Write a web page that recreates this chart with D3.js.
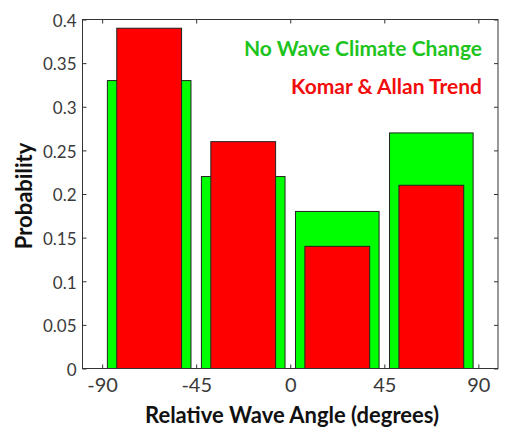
<!DOCTYPE html>
<html>
<head>
<meta charset="utf-8">
<script src="https://cdn.jsdelivr.net/npm/d3@7"></script>
<style>
  body { margin: 0; background: #fff; }
  svg { display: block; }
</style>
</head>
<body>
<script>
'use strict'

var w = 514;
var h = 437;

// bin centres (degrees) and probabilities
var binCentres = [-67.5, -22.5, 22.5, 67.5];
var noChange = [0.33, 0.22, 0.18, 0.27];
var komarAllan = [0.39, 0.26, 0.14, 0.21];
var xTicks = [-90, -45, 0, 45, 90];
var yTicks = [0, 0.05, 0.1, 0.15, 0.2, 0.25, 0.3, 0.35, 0.4];
var seriesNames = ["No Wave Climate Change", "Komar & Allan Trend"];

var margin = {top: 19.5, right: 16, bottom: 68.5, left: 82.5};
var pw = w - margin.left - margin.right;
var ph = h - margin.top - margin.bottom;

var font = "Lato, 'Open Sans', sans-serif";

var x = d3.scaleLinear().domain([-99.4, 99.4]).range([0, pw]);
var y = d3.scaleLinear().domain([0, 0.4]).range([ph, 0]);

var svg = d3.select("body")
  .append("svg")
  .attr("width", w)
  .attr("height", h);

var g = svg.append("g")
  .attr("transform", "translate(" + margin.left + "," + margin.top + ")");

// green (wide) bars
g.selectAll("rect.green")
  .data(binCentres)
  .enter()
  .append("rect")
  .attr("class", "green")
  .attr("x", function(d) { return x(d - 20); })
  .attr("width", function(d) { return x(d + 20) - x(d - 20); })
  .attr("y", function(d, i) { return y(noChange[i]); })
  .attr("height", function(d, i) { return y(0) - y(noChange[i]); })
  .attr("fill", "#00ff00")
  .attr("stroke", "#222")
  .attr("stroke-width", 1);

// red (narrow) bars
g.selectAll("rect.red")
  .data(binCentres)
  .enter()
  .append("rect")
  .attr("class", "red")
  .attr("x", function(d) { return x(d - 15.5); })
  .attr("width", function(d) { return x(d + 15.5) - x(d - 15.5); })
  .attr("y", function(d, i) { return y(komarAllan[i]); })
  .attr("height", function(d, i) { return y(0) - y(komarAllan[i]); })
  .attr("fill", "#ff0000")
  .attr("stroke", "#222")
  .attr("stroke-width", 1);

// axes, ticks pointing inwards
var xAxis = g.append("g")
  .attr("transform", "translate(0," + ph + ")")
  .call(d3.axisBottom(x).tickValues(xTicks).tickSizeInner(-4).tickSizeOuter(0).tickPadding(9)
    .tickFormat(function(d) { return String(d); }));
var xTop = g.append("g")
  .call(d3.axisTop(x).tickValues(xTicks).tickSizeInner(-4).tickSizeOuter(0).tickFormat(""));
var yAxis = g.append("g")
  .call(d3.axisLeft(y).tickValues(yTicks).tickSizeInner(-4).tickSizeOuter(0).tickPadding(6)
    .tickFormat(function(d) { return String(+d.toFixed(2)); }));
var yRight = g.append("g")
  .attr("transform", "translate(" + pw + ",0)")
  .call(d3.axisRight(y).tickValues(yTicks).tickSizeInner(-4).tickSizeOuter(0).tickFormat(""));

[xAxis, xTop, yAxis, yRight].forEach(function(a) {
  a.select(".domain").remove();
  a.selectAll("line").attr("stroke", "#333");
});

xAxis.selectAll("text")
  .attr("font-family", font)
  .attr("font-size", 20)
  .attr("fill", "#3a3a3a");
yAxis.selectAll("text")
  .attr("font-family", font)
  .attr("font-size", 17)
  .attr("dy", "0.4em")
  .attr("fill", "#3a3a3a");

// box
g.append("rect")
  .attr("width", pw)
  .attr("height", ph)
  .attr("fill", "none")
  .attr("stroke", "#333")
  .attr("stroke-width", 1);

// legend text
var legendColors = ["#1ec41e", "#f20d0d"];
g.selectAll("text.legend")
  .data(seriesNames)
  .enter()
  .append("text")
  .attr("class", "legend")
  .attr("x", pw - 16)
  .attr("y", function(d, i) { return 36 + i * 38.5; })
  .attr("text-anchor", "end")
  .attr("font-family", font)
  .attr("font-weight", "bold")
  .attr("font-size", 21)
  .attr("fill", function(d, i) { return legendColors[i]; })
  .text(function(d) { return d; });

// axis titles
svg.append("text")
  .attr("x", 292)
  .attr("y", 423)
  .attr("text-anchor", "middle")
  .attr("font-family", font)
  .attr("font-weight", "bold")
  .attr("font-size", 22)
  .attr("fill", "#111")
  .text("Relative Wave Angle (degrees)");

svg.append("text")
  .attr("transform", "translate(32,196) rotate(-90)")
  .attr("text-anchor", "middle")
  .attr("font-family", font)
  .attr("font-weight", "bold")
  .attr("font-size", 22)
  .attr("fill", "#111")
  .text("Probability");
</script>
</body>
</html>
